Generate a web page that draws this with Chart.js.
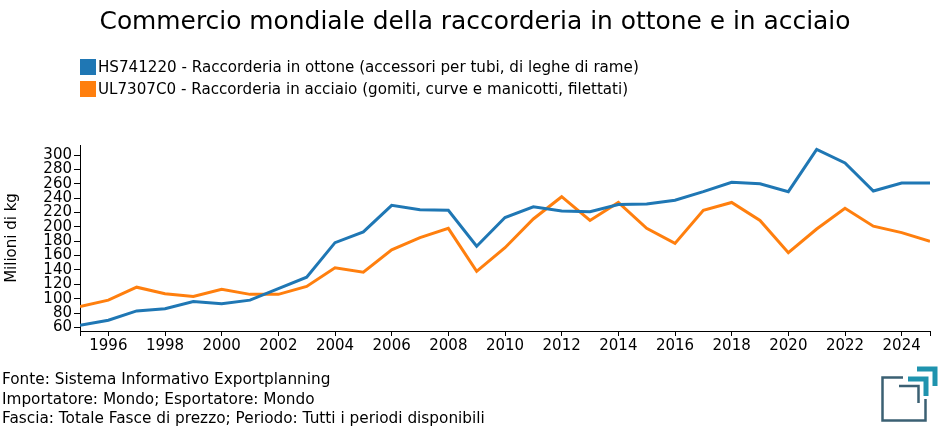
<!DOCTYPE html>
<html lang="it">
<head>
<meta charset="utf-8">
<title>Commercio mondiale della raccorderia in ottone e in acciaio</title>
<script src="https://cdn.jsdelivr.net/npm/chart.js@4.4.1/dist/chart.umd.min.js"></script>
<style>
  html, body { margin: 0; padding: 0; background: #fff; }
  body { width: 950px; height: 435px; position: relative; overflow: hidden;
         font-family: "DejaVu Sans", sans-serif; color: #000; }
  #wrap { position: absolute; left: 0; top: 0; width: 950px; height: 435px; }
  .title { position: absolute; left: 0; top: 6px; width: 950px; text-align: center;
           font-size: 24.9px; line-height: 30px; }
  .legend { position: absolute; left: 80px; top: 56px; font-size: 15.13px; line-height: 22px; }
  .legend div { display: flex; align-items: center; white-space: nowrap; }
  .legend span.box { display: inline-block; width: 16px; height: 16px; margin-right: 2px; }
  .footer { position: absolute; left: 2px; top: 370px; font-size: 15.3px; line-height: 19.5px; white-space: nowrap; }
  .logo { position: absolute; left: 860px; top: 355px; }
</style>
</head>
<body>
<div id="wrap"><canvas id="chart"></canvas></div>
<div class="title">Commercio mondiale della raccorderia in ottone e in acciaio</div>
<div class="legend" id="legend"></div>
<div class="footer">
  Fonte: Sistema Informativo Exportplanning<br>
  Importatore: Mondo; Esportatore: Mondo<br>
  Fascia: Totale Fasce di prezzo; Periodo: Tutti i periodi disponibili
</div>
<svg class="logo" width="80" height="70" viewBox="860 355 80 70">
  <g fill="none" stroke="#3b6073" stroke-width="2.5">
    <polyline points="903,377.5 882.5,377.5 882.5,420.5 925.5,420.5 925.5,399"/>
    <polyline points="899,386 918.5,386 918.5,403"/>
  </g>
  <g fill="none" stroke="#1f93ae" stroke-width="5">
    <polyline points="908,379 926,379 926,396"/>
    <polyline points="917,369 935,369 935,386"/>
  </g>
</svg>

<script>
// Anni e valori (milioni di kg)
const years = [1995, 1996, 1997, 1998, 1999, 2000, 2001, 2002, 2003, 2004,
               2005, 2006, 2007, 2008, 2009, 2010, 2011, 2012, 2013, 2014,
               2015, 2016, 2017, 2018, 2019, 2020, 2021, 2022, 2023, 2024, 2025];

const ottone = [63, 70, 83, 86, 96, 93, 98, 114, 130, 178,
                193, 230, 224, 223, 173, 213, 228, 222, 221, 231,
                232, 237, 249, 262, 260, 249, 308, 289, 250, 261, 261];

const acciaio = [89, 98, 116, 107, 103, 113, 106, 106, 117, 143,
                 137, 168, 185, 198, 138, 171, 211, 242, 209, 234,
                 198, 177, 223, 234, 209, 164, 197, 226, 201, 192, 180];

const seriesNames = [
    'HS741220 - Raccorderia in ottone (accessori per tubi, di leghe di rame)',
    'UL7307C0 - Raccorderia in acciaio (gomiti, curve e manicotti, filettati)'
];
const seriesColors = ['#1f77b4', '#ff7f0e'];

const yTicks = [60, 80, 100, 120, 140, 160, 180, 200, 220, 240, 260, 280, 300];
const xTicks = [1995, 1996, 1998, 2000, 2002, 2004, 2006, 2008, 2010,
                2012, 2014, 2016, 2018, 2020, 2022, 2024, 2025];
const xTickLabels = ['', '1996', '1998', '2000', '2002', '2004', '2006', '2008', '2010',
                     '2012', '2014', '2016', '2018', '2020', '2022', '2024', ''];

// Legenda in HTML
const legend = document.getElementById('legend');
seriesNames.forEach((name, i) => {
    const row = document.createElement('div');
    const box = document.createElement('span');
    box.className = 'box';
    box.style.background = seriesColors[i];
    row.appendChild(box);
    row.appendChild(document.createTextNode(name));
    legend.appendChild(row);
});

const toPoints = values => years.map((y, i) => ({ x: y, y: values[i] }));

// Linea dell'asse x limitata all'area del grafico
const xAxisLine = {
    id: 'xAxisLine',
    afterDraw(chart) {
        const { ctx, chartArea } = chart;
        ctx.save();
        ctx.strokeStyle = '#000';
        ctx.lineWidth = 1;
        ctx.beginPath();
        ctx.moveTo(chartArea.left, Math.round(chartArea.bottom) + 0.5);
        ctx.lineTo(chartArea.right, Math.round(chartArea.bottom) + 0.5);
        ctx.stroke();
        ctx.restore();
    }
};

Chart.defaults.font.family = '"DejaVu Sans", sans-serif';
Chart.defaults.font.size = 15;
Chart.defaults.color = '#000';

const ctx = document.getElementById('chart').getContext('2d');
const chart = new Chart(ctx, {
    type: 'line',
    data: {
        datasets: [
            {
                label: seriesNames[0],
                data: toPoints(ottone),
                borderColor: seriesColors[0],
                backgroundColor: seriesColors[0],
                borderWidth: 3,
                pointRadius: 0,
                tension: 0
            },
            {
                label: seriesNames[1],
                data: toPoints(acciaio),
                borderColor: seriesColors[1],
                backgroundColor: seriesColors[1],
                borderWidth: 3,
                pointRadius: 0,
                tension: 0
            }
        ]
    },
    plugins: [xAxisLine],
    options: {
        responsive: true,
        maintainAspectRatio: false,
        animation: false,
        layout: { padding: { top: 145, right: 20, bottom: 0, left: 0 } },
        plugins: {
            legend: { display: false },
            title: { display: false },
            tooltip: { enabled: false }
        },
        scales: {
            x: {
                type: 'linear',
                min: 1995,
                max: 2025,
                afterBuildTicks: scale => { scale.ticks = xTicks.map(v => ({ value: v })); },
                afterFit: scale => { scale.height = 104; },
                grid: { drawOnChartArea: false, drawTicks: true, tickLength: 5, color: '#000' },
                border: { display: false },
                ticks: {
                    autoSkip: false,
                    maxRotation: 0,
                    padding: 1,
                    callback: (v, i) => xTickLabels[i]
                }
            },
            y: {
                min: 55,
                max: 314,
                afterBuildTicks: scale => { scale.ticks = yTicks.map(v => ({ value: v })); },
                afterFit: scale => { scale.width = 80; },
                grid: { drawOnChartArea: false, drawTicks: true, tickLength: 6, color: '#000' },
                border: { color: '#000', width: 1 },
                ticks: { padding: 2, autoSkip: false },
                title: {
                    display: true,
                    text: 'Milioni di kg',
                    font: { size: 15 },
                    padding: { top: 3, bottom: 0 }
                }
            }
        }
    }
});
</script>
</body>
</html>
